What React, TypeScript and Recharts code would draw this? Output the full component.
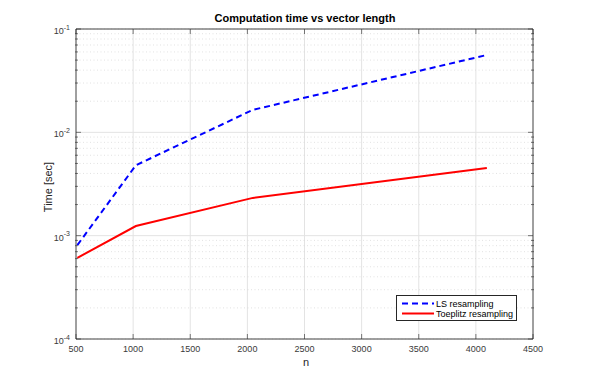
import React from 'react';
import { ComposedChart, Line, XAxis, YAxis, CartesianGrid, Legend } from 'recharts';

const nValues = [512, 1024, 2048, 4096];
const lsTimes = [0.00081, 0.0048, 0.0165, 0.056];
const toeplitzTimes = [0.00061, 0.00124, 0.00232, 0.00452];
const xTicks = [500, 1000, 1500, 2000, 2500, 3000, 3500, 4000, 4500];
const yMajorTicks = [1e-4, 1e-3, 1e-2, 1e-1];
const yMinorTicks = [
  2e-4, 3e-4, 4e-4, 5e-4, 6e-4, 7e-4, 8e-4, 9e-4,
  2e-3, 3e-3, 4e-3, 5e-3, 6e-3, 7e-3, 8e-3, 9e-3,
  2e-2, 3e-2, 4e-2, 5e-2, 6e-2, 7e-2, 8e-2, 9e-2,
];
const seriesNames = ['LS resampling', 'Toeplitz resampling'];

const data = nValues.map((n, i) => ({ n, ls: lsTimes[i], tp: toeplitzTimes[i] }));

const AXIS = '#262626';
const TICK_TEXT = '#3a3a3a';
const FONT = 'Liberation Sans, Arial, Helvetica, sans-serif';

const BottomTick = (props: any) => {
  const { x, y, payload } = props;
  return (
    <g>
      <line x1={x} y1={y} x2={x} y2={y - 5} stroke={AXIS} strokeWidth={0.6} />
      <text x={x} y={y + 13} textAnchor="middle" fontSize={9} fill={TICK_TEXT} fontFamily={FONT}>
        {payload.value}
      </text>
    </g>
  );
};

const TopTick = (props: any) => {
  const { x, y } = props;
  return <line x1={x} y1={y} x2={x} y2={y + 5} stroke={AXIS} strokeWidth={0.6} />;
};

const LeftMajorTick = (props: any) => {
  const { x, y, payload } = props;
  const exp = Math.round(Math.log10(payload.value));
  return (
    <g>
      <line x1={x} y1={y} x2={x + 5} y2={y} stroke={AXIS} strokeWidth={0.6} />
      <text x={x - 6} y={y + 5} textAnchor="end" fontSize={9} fill={TICK_TEXT} fontFamily={FONT}>
        <tspan>10</tspan>
        <tspan dy={-4.5} fontSize={7}>{String(exp)}</tspan>
      </text>
    </g>
  );
};

const LeftMinorTick = (props: any) => {
  const { x, y } = props;
  return <line x1={x} y1={y} x2={x + 3} y2={y} stroke={AXIS} strokeWidth={0.6} />;
};

const RightMajorTick = (props: any) => {
  const { x, y } = props;
  return <line x1={x} y1={y} x2={x - 5} y2={y} stroke={AXIS} strokeWidth={0.6} />;
};

const RightMinorTick = (props: any) => {
  const { x, y } = props;
  return <line x1={x} y1={y} x2={x - 3} y2={y} stroke={AXIS} strokeWidth={0.6} />;
};

const LegendBox = () => (
  <div
    style={{
      position: 'absolute',
      left: 0,
      top: 0,
      width: 119,
      height: 24,
      border: '1px solid #262626',
      background: '#fff',
      boxSizing: 'content-box',
    }}
  >
    <svg width={119} height={24} style={{ position: 'absolute', left: 0, top: 0 }}>
      <line x1={5} y1={7.5} x2={37} y2={7.5} stroke="#0000ff" strokeWidth={2} strokeDasharray="6 4" />
      <line x1={5} y1={17.5} x2={37} y2={17.5} stroke="#ff0000" strokeWidth={2} />
      <text x={39} y={11} fontSize={9} fontFamily={FONT} fill="#000">{seriesNames[0]}</text>
      <text x={39} y={21} fontSize={9} fontFamily={FONT} fill="#000">{seriesNames[1]}</text>
    </svg>
  </div>
);

const commonY = {
  scale: 'log' as const,
  type: 'number' as const,
  domain: [1e-4, 1e-1],
  interval: 0 as const,
  width: 1,
  tickSize: 0,
  tickMargin: 0,
  tickLine: false,
  allowDataOverflow: true,
};

const commonX = {
  dataKey: 'n',
  type: 'number' as const,
  domain: [500, 4500],
  ticks: xTicks,
  interval: 0 as const,
  height: 1,
  tickSize: 0,
  tickMargin: 0,
  tickLine: false,
  allowDataOverflow: true,
};

export default function App() {
  return (
    <div style={{ position: 'absolute', left: 0, top: 0, width: 590, height: 381, background: '#fff' }}>
      <ComposedChart
        width={590}
        height={381}
        data={data}
        margin={{ top: 28, right: 55, bottom: 41, left: 74 }}
      >
        <CartesianGrid xAxisId="bottom" yAxisId="major" stroke="#e3e3e3" strokeWidth={1} />
        <CartesianGrid
          xAxisId="bottom"
          yAxisId="minor"
          vertical={false}
          stroke="#d6d6d6"
          strokeWidth={0.7}
          strokeDasharray="1 2.5"
        />
        <XAxis
          {...commonX}
          xAxisId="bottom"
          orientation="bottom"
          axisLine={{ stroke: AXIS, strokeWidth: 0.8 }}
          tick={<BottomTick />}
        />
        <XAxis
          {...commonX}
          xAxisId="top"
          orientation="top"
          axisLine={{ stroke: AXIS, strokeWidth: 0.8 }}
          tick={<TopTick />}
        />
        <YAxis
          {...commonY}
          yAxisId="major"
          orientation="left"
          ticks={yMajorTicks}
          axisLine={{ stroke: AXIS, strokeWidth: 0.8 }}
          tick={<LeftMajorTick />}
        />
        <YAxis
          {...commonY}
          yAxisId="minor"
          orientation="left"
          ticks={yMinorTicks}
          axisLine={false}
          tick={<LeftMinorTick />}
        />
        <YAxis
          {...commonY}
          yAxisId="rmajor"
          orientation="right"
          ticks={yMajorTicks}
          axisLine={{ stroke: AXIS, strokeWidth: 0.8 }}
          tick={<RightMajorTick />}
        />
        <YAxis
          {...commonY}
          yAxisId="rminor"
          orientation="right"
          ticks={yMinorTicks}
          axisLine={false}
          tick={<RightMinorTick />}
        />
        <Line
          xAxisId="bottom"
          yAxisId="major"
          dataKey="ls"
          name={seriesNames[0]}
          stroke="#0000ff"
          strokeWidth={2}
          strokeDasharray="6 4"
          dot={false}
          isAnimationActive={false}
        />
        <Line
          xAxisId="bottom"
          yAxisId="major"
          dataKey="tp"
          name={seriesNames[1]}
          stroke="#ff0000"
          strokeWidth={2}
          dot={false}
          isAnimationActive={false}
        />
        <Legend
          content={<LegendBox />}
          wrapperStyle={{ position: 'absolute', left: 396, top: 295, width: 0, height: 0, overflow: 'visible' }}
        />
      </ComposedChart>
      <div
        style={{
          position: 'absolute',
          left: 0,
          width: 610,
          top: 11,
          textAlign: 'center',
          fontFamily: FONT,
          fontWeight: 'bold',
          fontSize: 11,
          color: '#000',
          lineHeight: '14px',
        }}
      >
        Computation time vs vector length
      </div>
      <div
        style={{
          position: 'absolute',
          left: 0,
          width: 612,
          top: 356,
          textAlign: 'center',
          fontFamily: FONT,
          fontSize: 11,
          color: '#262626',
          lineHeight: '13px',
        }}
      >
        n
      </div>
      <div
        style={{
          position: 'absolute',
          left: 48 - 50,
          top: 187 - 7,
          width: 100,
          height: 14,
          textAlign: 'center',
          transform: 'rotate(-90deg)',
          transformOrigin: '50% 50%',
          fontFamily: FONT,
          fontSize: 11,
          color: '#262626',
          lineHeight: '14px',
        }}
      >
        Time [sec]
      </div>
    </div>
  );
}
